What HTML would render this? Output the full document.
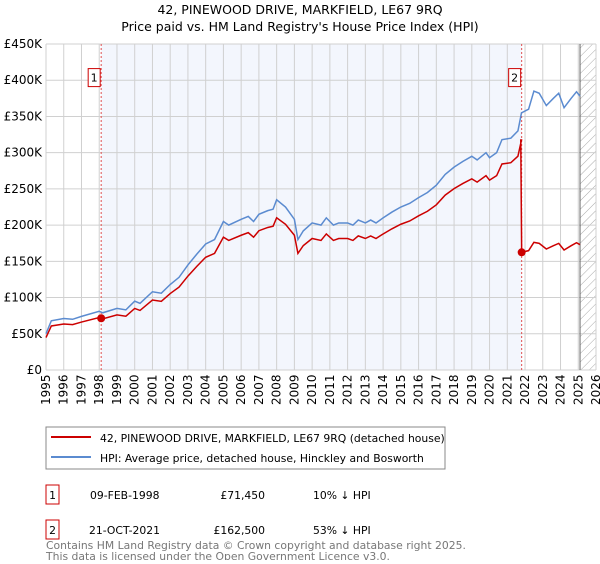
<!DOCTYPE html>
<html><head><meta charset="utf-8"><style>
body{margin:0;width:600px;height:560px;background:#fff;font-family:"DejaVu Sans","Liberation Sans",sans-serif;overflow:hidden}
svg text{font-family:"DejaVu Sans","Liberation Sans",sans-serif}
</style></head><body>
<svg id="c" width="600" height="560" xmlns="http://www.w3.org/2000/svg">
<defs><pattern id="hatch" width="6" height="6" patternUnits="userSpaceOnUse" patternTransform="rotate(45)"><line x1="0" y1="0" x2="0" y2="6" stroke="#aaa" stroke-width="1"/></pattern></defs>
<text x="300" y="14" text-anchor="middle" font-size="12.5">42, PINEWOOD DRIVE, MARKFIELD, LE67 9RQ</text>
<text x="300" y="31" text-anchor="middle" font-size="12.5">Price paid vs. HM Land Registry's House Price Index (HPI)</text>
<g id="plot"></g>
<rect x="46" y="427" width="399" height="42" fill="#fff" stroke="#888"/>
<line x1="51" y1="437" x2="91" y2="437" stroke="#cc0000" stroke-width="2"/>
<text x="100" y="442" font-size="10.8">42, PINEWOOD DRIVE, MARKFIELD, LE67 9RQ (detached house)</text>
<line x1="51" y1="457" x2="91" y2="457" stroke="#5b8bd0" stroke-width="2"/>
<text x="100" y="462" font-size="10.8">HPI: Average price, detached house, Hinckley and Bosworth</text>
<g font-size="10.8">
<rect x="46" y="485" width="13" height="19" fill="#fff" stroke="#cc0000"/>
<text x="52.5" y="499" text-anchor="middle">1</text>
<text x="90" y="499">09-FEB-1998</text><text x="265" y="499" text-anchor="end">£71,450</text><text x="313" y="499">10% ↓ HPI</text>
<rect x="46" y="520" width="13" height="19" fill="#fff" stroke="#cc0000"/>
<text x="52.5" y="534" text-anchor="middle">2</text>
<text x="89" y="534">21-OCT-2021</text><text x="265" y="534" text-anchor="end">£162,500</text><text x="313" y="534">53% ↓ HPI</text>
</g>
<text x="46" y="549" font-size="10.8" fill="#777">Contains HM Land Registry data © Crown copyright and database right 2025.</text>
<text x="46" y="560" font-size="10.8" fill="#777">This data is licensed under the Open Government Licence v3.0.</text>
</svg>
<script>
const hpiYears=[1995.0,1995.3,1996,1996.5,1997,1998,1998.2,1999,1999.5,2000,2000.3,2001,2001.5,2002,2002.5,2003,2003.5,2004,2004.5,2005,2005.3,2006,2006.4,2006.7,2007,2007.5,2007.8,2008,2008.5,2009,2009.2,2009.5,2010,2010.5,2010.8,2011.2,2011.5,2012,2012.3,2012.6,2013,2013.3,2013.6,2014,2014.5,2015,2015.5,2016,2016.5,2017,2017.5,2018,2018.5,2019,2019.3,2019.8,2020,2020.4,2020.7,2021.2,2021.6,2021.8,2022.2,2022.5,2022.8,2023.2,2023.6,2023.9,2024.2,2024.6,2024.9,2025.1];
const hpiValues=[50,68,71,70,74,81,79,85,83,95,92,108,106,118,128,145,160,174,180,205,200,208,212,205,215,220,222,235,225,208,180,192,203,200,210,200,203,203,200,207,203,207,203,210,218,225,230,238,245,255,270,280,288,295,290,300,293,300,318,320,330,355,360,385,382,365,375,382,362,375,384,378];
const saleDates=[1998.11,2021.81];
const salePrices=[71.45,162.5];
const saleLabels=["1","2"];
const yTicks=[0,50,100,150,200,250,300,350,400,450];
const yTickLabels=["£0","£50K","£100K","£150K","£200K","£250K","£300K","£350K","£400K","£450K"];
const xTicks=[1995,1996,1997,1998,1999,2000,2001,2002,2003,2004,2005,2006,2007,2008,2009,2010,2011,2012,2013,2014,2015,2016,2017,2018,2019,2020,2021,2022,2023,2024,2025,2026];
const dataEnd=2025.1;
const NS="http://www.w3.org/2000/svg";
const L=46,R=596,T=44,B=370;
const X=y=>L+(y-1995)/(2026-1995)*(R-L);
const Y=v=>B-v/450*(B-T);
const g=document.getElementById('plot');
function mk(t,a){const e=document.createElementNS(NS,t);for(const k in a)e.setAttribute(k,a[k]);g.appendChild(e);return e;}
function hpiAt(t){for(let i=1;i<hpiYears.length;i++){if(t<=hpiYears[i]){const f=(t-hpiYears[i-1])/(hpiYears[i]-hpiYears[i-1]);return hpiValues[i-1]+f*(hpiValues[i]-hpiValues[i-1]);}}return hpiValues[hpiValues.length-1];}
let e=mk('rect',{x:L,y:T,width:R-L,height:B-T,fill:'#fff'});


e=mk('rect',{x:X(saleDates[0]),y:T,width:X(saleDates[1])-X(saleDates[0]),height:B-T,fill:'#f3f6fd'});


e=mk('rect',{x:X(dataEnd),y:T,width:R-X(dataEnd),height:B-T,fill:'url(#hatch)'});


yTicks.forEach((v,i)=>{
 e=mk('line',{x1:L,x2:R,y1:Y(v),y2:Y(v),stroke:'#d0d0d0'});
 
 
 e=mk('text',{x:L-4,y:Y(v)+4,'text-anchor':'end','font-size':'12'});
 e.textContent=yTickLabels[i];
 
 
});
xTicks.forEach(yr=>{
 e=mk('line',{x1:X(yr),x2:X(yr),y1:T,y2:B,stroke:'#d0d0d0'});
 
 
 e=mk('text',{x:0,y:0,'font-size':'12',transform:`translate(${X(yr)+4},405) rotate(-90)`});
 e.textContent=yr;
 
 
});
e=mk('line',{x1:X(dataEnd),x2:X(dataEnd),y1:T,y2:B,stroke:'#666'});


saleDates.forEach((d,i)=>{
 e=mk('line',{x1:X(d),x2:X(d),y1:T,y2:B,stroke:'#e05050','stroke-dasharray':'2,2'});
 
 
 e=mk('rect',{x:X(d)-13,y:Y(405)-8,width:12,height:18,fill:'#fff',stroke:'#cc0000'});
 
 
 e=mk('text',{x:X(d)-7,y:Y(405)+5,'text-anchor':'middle','font-size':'11'});
 e.textContent=saleLabels[i];
 
 
});
e=mk('polyline',{points:hpiYears.map((t,i)=>X(t)+','+Y(hpiValues[i])).join(' '),fill:'none',stroke:'#5b8bd0','stroke-width':1.5});


const pts=[];
let lastK=-1;
hpiYears.forEach((t,i)=>{
 const k=(t<saleDates[1])?0:1;
 if(k===1&&lastK===0){const prev=pts[pts.length-1];pts.push([saleDates[1]-0.05,prev[1]]);pts.push([saleDates[1],salePrices[1]]);}
 lastK=k;
 pts.push([t,salePrices[k]*hpiValues[i]/hpiAt(saleDates[k])]);
});
e=mk('polyline',{points:pts.map(p=>X(p[0])+','+Y(p[1])).join(' '),fill:'none',stroke:'#cc0000','stroke-width':1.5});


saleDates.forEach((d,i)=>{
 e=mk('circle',{cx:X(d),cy:Y(salePrices[i]),r:4,fill:'#cc0000'});
 
 
});
</script>
</body></html>
